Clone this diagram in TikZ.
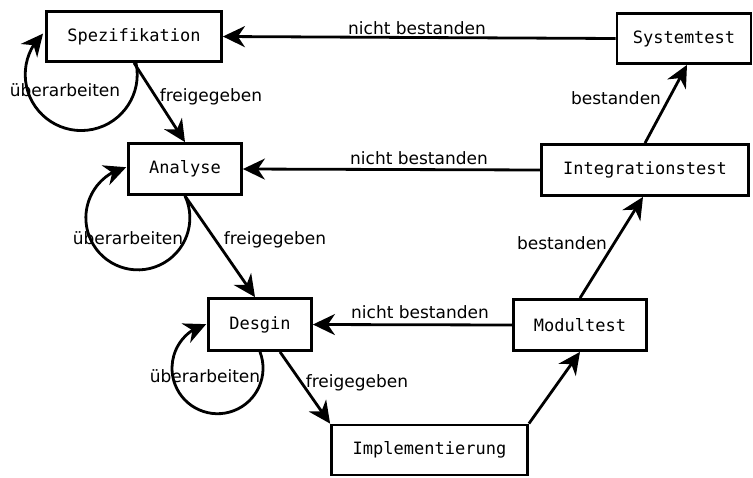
\documentclass[tikz,border=0pt]{standalone}
\usepackage{fontspec}
\setmainfont{DejaVu Sans}
\newfontfamily\boxfont{DejaVu Sans Mono}
\usetikzlibrary{arrows.meta,bending}

\begin{document}
\begin{tikzpicture}[x=1pt,y=1pt,
  phase/.style={draw, line width=2.8pt, inner sep=0pt, align=center,
    font=\boxfont\fontsize{17}{20}\selectfont},
  lbl/.style={font=\fontsize{17}{20}\selectfont, inner sep=0pt},
  flow/.style={line width=2.8pt, -{Stealth[length=22pt,width=21pt,inset=7pt]}},
  rework/.style={line width=2.8pt, -{Stealth[length=22pt,width=21pt,inset=7pt,flex]}}
]
\useasboundingbox (0,0) rectangle (753,-477);

% phases of the V-shaped process
\node[phase, minimum width=175pt, minimum height=50pt] (spez) at (134,-36.5) {Spezifikation};
\node[phase, minimum width=134pt, minimum height=50pt] (sys)  at (684,-38.5) {Systemtest};
\node[phase, minimum width=113pt, minimum height=51pt] (ana)  at (185,-169)  {Analyse};
\node[phase, minimum width=207pt, minimum height=51pt] (integ) at (645,-170) {Integrationstest};
\node[phase, minimum width=103pt, minimum height=52pt] (des)  at (260,-324.5) {Desgin};
\node[phase, minimum width=133pt, minimum height=51pt] (mod)  at (580,-325)  {Modultest};
\node[phase, minimum width=196pt, minimum height=50pt] (impl) at (429.5,-450) {Implementierung};

% released: down the left branch
\draw[flow] (spez.south) -- (ana.north);
\draw[flow] (ana.south) -- ([xshift=-5pt]des.north);
\draw[flow] ([xshift=20pt]des.south) -- (impl.north west);
\node[lbl] at (211,-97) {freigegeben};
\node[lbl] at (275,-240) {freigegeben};
\node[lbl] at (357,-383) {freigegeben};

% passed: up the right branch
\draw[flow] (impl.north east) -- (mod.south);
\draw[flow] (mod.north) -- ([xshift=-2pt]integ.south);
\draw[flow] (integ.north) -- ([xshift=3pt]sys.south);
\node[lbl] at (562,-243) {bestanden};
\node[lbl] at (616,-98) {bestanden};

% failed: back to the matching phase
\draw[flow] (sys.west) -- (spez.east);
\draw[flow] (integ.west) -- (ana.east);
\draw[flow] (mod.west) -- (des.east);
\node[lbl] at (417,-28) {nicht bestanden};
\node[lbl] at (419,-158) {nicht bestanden};
\node[lbl] at (420,-312) {nicht bestanden};

% rework loops
\draw[rework] ([xshift=2pt]spez.south) arc[start angle=12, end angle=-227, radius=56pt];
\draw[rework] (ana.south) arc[start angle=25, end angle=-257, radius=52pt];
\draw[rework] (des.south) arc[start angle=21, end angle=-255.5, radius=45.5pt];
\node[lbl] at (65,-90) {überarbeiten};
\node[lbl] at (128,-238) {überarbeiten};
\node[lbl] at (205,-376) {überarbeiten};
\end{tikzpicture}
\end{document}
